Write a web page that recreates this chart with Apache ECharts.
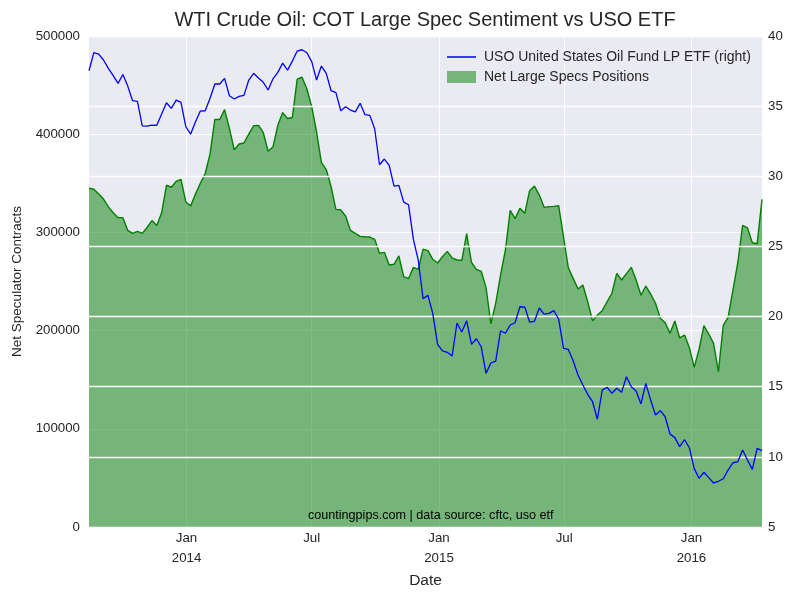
<!DOCTYPE html>
<html>
<head>
<meta charset="utf-8">
<script src="https://cdn.jsdelivr.net/npm/echarts@6/dist/echarts.min.js"></script>
<style>html,body{margin:0;padding:0;background:#fff}#c{width:800px;height:600px}</style>
</head>
<body>
<div id="c"></div>
<script>
// Weekly COT report dates (Tuesdays), first and count
const startDate = '2013-08-13';
const weekCount = 140;

// Net Large Specs Positions (contracts)
const netSpecs = [
  345000, 344000, 339000, 334000, 326000, 320000, 315000, 315000, 302000, 299000,
  301000, 299000, 305000, 312000, 307000, 320000, 348000, 346000, 352000, 354000,
  331000, 327000, 339000, 350000, 360000, 380000, 415000, 415000,
  425000, 406000, 384000, 390000, 391000, 400000, 408600, 409000, 401500, 382600,
  387000, 409000, 422000, 416000, 417000, 456000, 458000, 446000, 428000, 402500,
  371000, 364000, 346500, 323500, 323000, 316700, 302000, 299000,
  296000, 295600, 295300, 293000, 278700, 279700, 266800, 267500, 276000, 254900,
  252900, 264400, 262400, 283000, 281400, 272600, 268800, 275300, 280700, 274000,
  271900, 271600, 298700, 269500, 262400, 260400, 244000, 207000,
  227800, 256600, 282000, 322500, 314000, 324500, 319400, 342500, 347200, 338000,
  325500, 326200, 326500, 327200, 295600, 264000, 253200, 242400, 246400, 229400,
  210000, 215900, 220300, 229400, 238000, 258300, 251500, 258000,
  264400, 251500, 236000, 245400, 237300, 227800, 212500, 208000, 197200, 209800,
  192500, 195500, 182600, 162600, 181000, 205000, 196500, 187000, 158100, 205400,
  213500, 241300, 269100, 307200, 304500, 289500, 288500, 333700
];

// USO United States Oil Fund LP ETF price (right axis)
const usoPrice = [
  37.52, 38.81, 38.71, 38.29, 37.69, 37.17, 36.62, 37.26, 36.43, 35.39,
  35.34, 33.60, 33.58, 33.65, 33.63, 34.44, 35.24, 34.84, 35.43, 35.27,
  33.53, 33.01, 33.89, 34.65, 34.67, 35.56, 36.58, 36.58,
  36.98, 35.74, 35.51, 35.70, 35.77, 36.86, 37.34, 37.00, 36.70, 36.15,
  36.95, 37.41, 38.07, 37.57, 38.21, 38.93, 39.02, 38.81, 38.17, 36.86,
  37.86, 37.34, 36.10, 35.96, 34.67, 34.96, 34.72, 34.59,
  35.20, 34.39, 34.34, 33.39, 30.82, 31.23, 30.78, 29.30, 29.35, 28.16,
  27.97, 25.50, 24.03, 21.27, 21.51, 20.23, 18.02, 17.56, 17.45, 17.19,
  19.54, 18.90, 19.70, 18.02, 18.42, 17.85, 15.95, 16.69,
  16.83, 18.99, 18.81, 19.40, 19.56, 20.70, 20.68, 19.61, 19.66, 20.61,
  20.18, 20.23, 20.42, 19.83, 17.74, 17.66, 16.85, 15.83, 15.12, 14.46,
  13.93, 12.68, 14.76, 14.96, 14.53, 14.89, 14.60, 15.71,
  15.00, 14.69, 13.77, 15.24, 14.05, 12.98, 13.29, 12.86, 11.63, 11.37,
  10.73, 11.22, 10.65, 9.16, 8.47, 8.90, 8.52, 8.14, 8.26, 8.44,
  9.06, 9.58, 9.65, 10.49, 9.78, 9.11, 10.61, 10.44
];

// x tick positions
const xTicks = ['2014-01-01', '2014-07-01', '2015-01-01', '2015-07-01', '2016-01-01'];
const monthNames = ['Jan','Feb','Mar','Apr','May','Jun','Jul','Aug','Sep','Oct','Nov','Dec'];

const t0 = Date.parse(startDate + 'T00:00:00Z');
const DAY = 86400000;
const dates = [];
for (let i = 0; i < weekCount; i++) dates.push(t0 + i * 7 * DAY);
const tickVals = xTicks.map(s => Date.parse(s + 'T00:00:00Z'));

const font = 'Liberation Sans, Arial, sans-serif';
const txt = '#262626';

const chart = echarts.init(document.getElementById('c'), null, {renderer: 'canvas'});
chart.setOption({
  animation: false,
  backgroundColor: '#ffffff',
  title: {
    text: 'WTI Crude Oil: COT Large Spec Sentiment vs USO ETF',
    left: 425, top: 10, textAlign: 'center', padding: 0,
    textStyle: {fontFamily: font, fontSize: 20, fontWeight: 'normal', color: txt}
  },
  grid: {
    left: 89, right: 38, top: 36, bottom: 73,
    show: true, backgroundColor: '#EAEAF2', borderWidth: 0,
    containLabel: false, outerBoundsMode: 'none'
  },
  legend: [
    {
      data: [{name: 'USO United States Oil Fund LP ETF (right)', icon: 'rect'}],
      left: 442, top: 45, itemWidth: 29, itemHeight: 1.5,
      textStyle: {fontFamily: font, fontSize: 14, color: txt, padding: [0, 0, 0, 3]},
      selectedMode: false
    },
    {
      data: [{name: 'Net Large Specs Positions', icon: 'rect'}],
      left: 442, top: 65, itemWidth: 29, itemHeight: 12,
      textStyle: {fontFamily: font, fontSize: 14, color: txt, padding: [0, 0, 0, 3]},
      selectedMode: false
    }
  ],
  xAxis: {
    type: 'value',
    min: dates[0], max: dates[dates.length - 1],
    name: 'Date', nameLocation: 'middle', nameGap: 44,
    nameTextStyle: {fontFamily: font, fontSize: 15.5, color: txt},
    axisLine: {show: false}, axisTick: {show: false, customValues: tickVals},
    axisLabel: {
      customValues: tickVals, margin: 1,
      fontFamily: font, fontSize: 13.3, color: txt, lineHeight: 20,
      formatter: function (v) {
        const d = new Date(v);
        const m = d.getUTCMonth();
        return m === 0 ? monthNames[m] + '\n' + d.getUTCFullYear() : monthNames[m];
      }
    },
    splitLine: {show: true, lineStyle: {color: '#ffffff', width: 1}},
    z: 0
  },
  yAxis: [
    {
      type: 'value', min: 0, max: 500000, interval: 100000,
      name: 'Net Speculator Contracts', nameLocation: 'middle', nameGap: 64,
      nameTextStyle: {fontFamily: font, fontSize: 13.5, color: txt},
      axisLine: {show: false}, axisTick: {show: false},
      axisLabel: {fontFamily: font, fontSize: 13.3, color: txt, margin: 9, formatter: v => String(v)},
      splitLine: {show: true, lineStyle: {color: '#ffffff', width: 1}},
      z: 0
    },
    {
      type: 'value', min: 5, max: 40, interval: 5,
      axisLine: {show: false}, axisTick: {show: false},
      axisLabel: {fontFamily: font, fontSize: 13.3, color: txt, margin: 6, formatter: v => String(v)},
      splitLine: {show: true, lineStyle: {color: '#ffffff', width: 1.3}},
      z: 3
    }
  ],
  graphic: [{
    type: 'text', left: 308, top: 509, z: 10,
    style: {
      text: 'countingpips.com | data source: cftc, uso etf',
      fontFamily: font, fontSize: 12.6, fill: '#000000'
    }
  }],
  series: [
    {
      name: 'Net Large Specs Positions', type: 'line', yAxisIndex: 0,
      data: dates.map((d, i) => [d, netSpecs[i]]),
      showSymbol: false, symbol: 'none',
      lineStyle: {color: '#008000', width: 1.4},
      itemStyle: {color: 'rgba(0,128,0,0.5)'},
      areaStyle: {color: '#008000', opacity: 0.5, origin: 'start'},
      z: 2
    },
    {
      name: 'USO United States Oil Fund LP ETF (right)', type: 'line', yAxisIndex: 1,
      data: dates.map((d, i) => [d, usoPrice[i]]),
      showSymbol: false, symbol: 'none',
      lineStyle: {color: '#0000ff', width: 1.3},
      itemStyle: {color: '#0000ff'},
      z: 4
    }
  ]
});
</script>
</body>
</html>
